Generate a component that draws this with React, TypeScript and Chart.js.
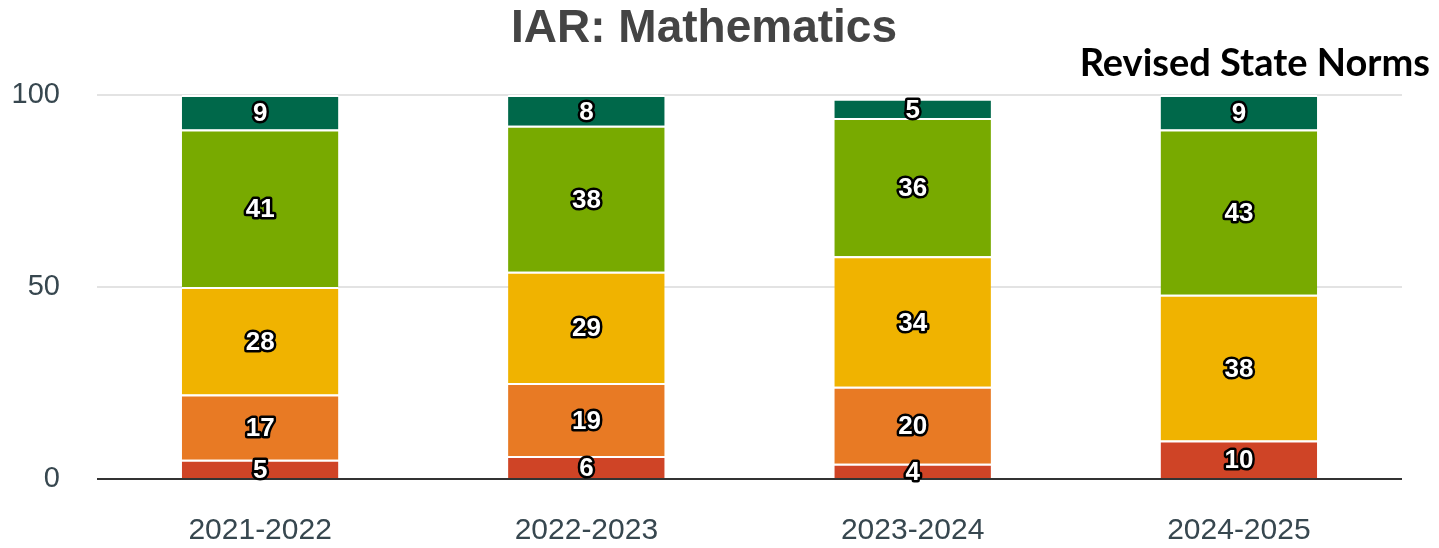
import React, { useEffect, useRef } from "react";
import { Chart, registerables } from "chart.js";

Chart.register(...registerables);

const categories = ["2021-2022", "2022-2023", "2023-2024", "2024-2025"];
const level1 = [5, 6, 4, 10];
const level2 = [17, 19, 20, 0];
const level3 = [28, 29, 34, 38];
const level4 = [41, 38, 36, 43];
const level5 = [9, 8, 5, 9];
const yTicks = [0, 50, 100];

const titleText = "IAR: Mathematics";
const noteText = "Revised State Norms";

const COLORS = ["#cf4426", "#e87a24", "#f0b300", "#78aa00", "#00684a"];

const labelPlugin = {
  id: "segLabels",
  afterDatasetsDraw(chart: any) {
    const ctx = chart.ctx;
    ctx.save();
    ctx.font = "bold 26px Arial, 'Liberation Sans', sans-serif";
    ctx.textAlign = "center";
    ctx.textBaseline = "middle";
    ctx.lineJoin = "round";
    chart.data.datasets.forEach((ds: any, i: number) => {
      const meta = chart.getDatasetMeta(i);
      meta.data.forEach((el: any, j: number) => {
        const v = ds.data[j];
        if (!v) return;
        const y = (el.y + el.base) / 2 + 2;
        const t = String(v);
        ctx.lineWidth = 5;
        ctx.strokeStyle = "#000";
        ctx.strokeText(t, el.x, y);
        ctx.fillStyle = "#fff";
        ctx.fillText(t, el.x, y);
      });
    });
    ctx.restore();
  },
};

const titlePlugin = {
  id: "titles",
  afterDraw(chart: any) {
    const ctx = chart.ctx;
    ctx.save();
    ctx.font = "bold 46px Arial, 'Liberation Sans', sans-serif";
    ctx.fillStyle = "#444444";
    ctx.textAlign = "center";
    ctx.textBaseline = "alphabetic";
    ctx.fillText(titleText, 704, 42);
    ctx.font = "bold 38px Lato, 'Noto Sans', sans-serif";
    ctx.fillStyle = "#000";
    ctx.textAlign = "right";
    ctx.fillText(noteText, 1430, 76);
    ctx.restore();
  },
};

export default function App() {
  const ref = useRef<HTMLCanvasElement>(null);
  useEffect(() => {
    document.body.style.margin = "0";
    const levels = [level1, level2, level3, level4, level5];
    const chart = new Chart(ref.current!, {
      type: "bar",
      data: {
        labels: categories,
        datasets: levels.map((d, i) => ({
          label: "Level " + (i + 1),
          data: d,
          backgroundColor: COLORS[i],
          borderColor: "#ffffff",
          borderWidth: { top: 2, bottom: 0, left: 0, right: 0 },
          borderSkipped: false,
          categoryPercentage: 0.96,
          barPercentage: 0.5,
        })),
      },
      options: {
        responsive: false,
        animation: false,
        layout: { padding: { top: 95, right: 37, bottom: 0, left: 0 } },
        plugins: {
          legend: { display: false },
          title: { display: false },
          tooltip: { enabled: false },
        },
        scales: {
          x: {
            stacked: true,
            grid: { display: false, drawTicks: false },
            border: { display: false },
            ticks: {
              padding: 34,
              color: "#37474f",
              font: { family: "Arial, 'Liberation Sans', sans-serif", size: 30 },
            },
            afterFit: (s: any) => {
              s.height = 69;
            },
          },
          y: {
            stacked: true,
            min: 0,
            max: 100,
            afterBuildTicks: (s: any) => {
              s.ticks = yTicks.map((v) => ({ value: v }));
            },
            grid: {
              drawTicks: false,
              color: (c: any) => (c.tick && c.tick.value === 0 ? "#333333" : "#e3e3e3"),
              lineWidth: 2,
            },
            border: { display: false },
            ticks: {
              padding: 37,
              color: "#37474f",
              font: { family: "Arial, 'Liberation Sans', sans-serif", size: 29 },
            },
            afterFit: (s: any) => {
              s.width = 97;
            },
          },
        },
      },
      plugins: [labelPlugin, titlePlugin],
    });
    return () => chart.destroy();
  }, []);
  return (
    <div style={{ width: 1439, height: 548, position: "relative" }}>
      <canvas ref={ref} width={1439} height={548} />
    </div>
  );
}
